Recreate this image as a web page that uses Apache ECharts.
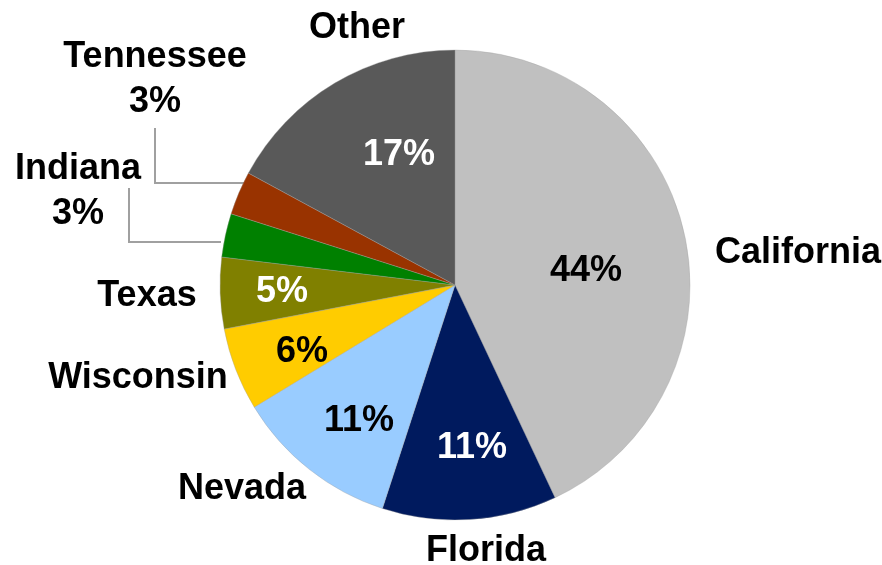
<!DOCTYPE html>
<html>
<head>
<meta charset="utf-8">
<script src="https://cdn.jsdelivr.net/npm/echarts@6/dist/echarts.min.js"></script>
<style>
  html, body { margin: 0; padding: 0; background: #fff; }
  #chart { width: 882px; height: 565px; }
</style>
</head>
<body>
<div id="chart"></div>
<script>
// Slice shares as drawn, clockwise from 12 o'clock
var states = ['California', 'Florida', 'Nevada', 'Wisconsin', 'Texas', 'Indiana', 'Tennessee', 'Other'];
var shares = [43.0, 12.0, 11.3, 5.7, 4.9, 3.0, 3.0, 17.1];
var pctLabels = ['44%', '11%', '11%', '6%', '5%', '3%', '3%', '17%'];
var colors = ['#C0C0C0', '#001A5E', '#99CCFF', '#FFCC00', '#808000', '#008000', '#993300', '#595959'];
var pctColors = ['#000', '#fff', '#000', '#000', '#fff', '#000', '#000', '#fff'];

// small slices get their label outside with a leader line
var outside = ['Indiana', 'Tennessee'];

// label anchors (center of text)
var pctPos = [[586, 271], [472, 448], [359, 421], [302, 352], [282, 292], null, null, [399, 155]];
var namePos = [[798, 253], [486, 551], [242, 489], [138, 378], [147, 296], [78, 192], [155, 80], [357, 28]];
var leaders = {
  5: [[221, 242], [129, 242], [129, 188]],
  6: [[246, 183], [155, 183], [155, 128]]
};

var font = '"Liberation Sans", Arial, sans-serif';

document.addEventListener('DOMContentLoaded', function() {
  var chart = echarts.init(document.getElementById('chart'), null, {renderer: 'canvas'});

  var sliceData = states.map(function(s, i) {
    return {
      name: s,
      value: shares[i],
      itemStyle: {color: colors[i]},
      label: {
        show: outside.indexOf(s) < 0,
        color: pctColors[i],
        formatter: pctLabels[i]
      }
    };
  });

  var nameData = states.map(function(s, i) {
    var small = outside.indexOf(s) >= 0;
    return {
      name: s,
      value: shares[i],
      label: {formatter: small ? s + '\n' + pctLabels[i] : s},
      labelLine: {show: small}
    };
  });

  var option = {
    animation: false,
    backgroundColor: '#fff',
    series: [
      {
        type: 'pie',
        center: [455, 285],
        radius: 235,
        startAngle: 90,
        clockwise: true,
        avoidLabelOverlap: false,
        silent: true,
        itemStyle: {borderColor: 'rgba(160,160,160,0.6)', borderWidth: 0.6},
        label: {
          position: 'inside',
          fontFamily: font,
          fontWeight: 'bold',
          fontSize: 36
        },
        labelLine: {show: false},
        labelLayout: function(p) {
          var pos = pctPos[p.dataIndex];
          if (!pos) return {};
          return {x: pos[0], y: pos[1], align: 'center', verticalAlign: 'middle'};
        },
        data: sliceData
      },
      {
        type: 'pie',
        center: [455, 285],
        radius: 235,
        startAngle: 90,
        clockwise: true,
        avoidLabelOverlap: false,
        silent: true,
        itemStyle: {color: 'rgba(0,0,0,0)'},
        label: {
          position: 'outside',
          color: '#000',
          fontFamily: font,
          fontWeight: 'bold',
          fontSize: 36,
          lineHeight: 45,
          align: 'center'
        },
        labelLine: {
          length: 10,
          length2: 10,
          lineStyle: {color: '#A0A0A0', width: 2}
        },
        labelLayout: function(p) {
          var pos = namePos[p.dataIndex];
          var out = {x: pos[0], y: pos[1], align: 'center', verticalAlign: 'middle'};
          if (leaders[p.dataIndex]) out.labelLinePoints = leaders[p.dataIndex];
          return out;
        },
        data: nameData
      }
    ]
  };

  chart.setOption(option);
});
</script>
</body>
</html>
